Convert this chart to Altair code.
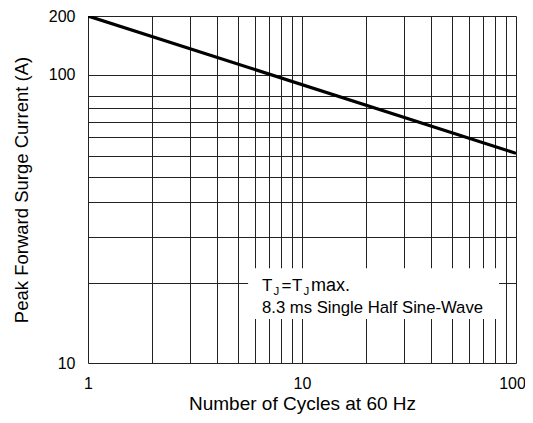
import altair as alt
import pandas as pd

# x axis (log): cycles
x_grid = [1, 2, 3, 4, 5, 6, 7, 8, 9, 10, 20, 30, 40, 50, 60, 70, 80, 90, 100]
x_labeled = [1, 10, 100]

# y axis (log) as drawn in the picture; label text for each grid line
y_grid = [10, 18.9, 27.4, 36.1, 44.2, 52.3, 60.9, 68.6, 76.7, 84.4, 100, 160]
y_labels = ["10", "", "", "", "", "", "", "", "", "", "100", "200"]

# surge-current curve (straight on log-log)
cycles = [1, 100]
current = [160, 53.4]

# annotation box and text (data coordinates)
box_x = [5.6, 83.3]
box_y = [14.2, 21.3]
note_x = 6.5
note_line1_y = 17.8
note_line2_y = 14.9
note_line2 = "8.3 ms Single Half Sine-Wave"

FONT = "Liberation Sans"

line_df = pd.DataFrame({"cycles": cycles, "current": current})
box_df = pd.DataFrame({"x": [box_x[0]], "x2": [box_x[1]], "y": [box_y[0]], "y2": [box_y[1]]})

y_label_expr = " : ".join(
    f"datum.value == {v} ? '{t}'" for v, t in zip(y_grid, y_labels) if t
) + " : ''"
x_label_expr = " || ".join(f"datum.value == {v}" for v in x_labeled) + " ? datum.label : ''"

x_scale = alt.Scale(type="log", domain=[1, 100], nice=False)
y_scale = alt.Scale(type="log", domain=[10, 160], nice=False)

x_axis = alt.Axis(
    values=x_grid, labelExpr=x_label_expr, format="d", grid=True, ticks=False, tickSize=0,
    domain=False, labelPadding=12, labelFontSize=16, labelColor="#000", labelFont=FONT,
    labelOffset={"condition": {"test": "datum.value == 100", "value": -4}, "value": 0},
    title="Number of Cycles at 60 Hz", titleFontSize=19, titleFont=FONT,
    titleFontWeight="normal", titleColor="#000", titlePadding=3, labelFlush=False,
    gridColor="#222", gridWidth=1, gridOpacity=1,
)
y_axis = alt.Axis(
    values=y_grid, labelExpr=y_label_expr, grid=True, ticks=False, tickSize=0,
    domain=False, labelPadding=13, labelFontSize=16, labelColor="#000", labelFont=FONT,
    title="Peak Forward Surge Current (A)", titleFontSize=18.5, titleFont=FONT,
    titleFontWeight="normal", titleColor="#000", titlePadding=17, labelFlush=False,
    gridColor="#222", gridWidth=1, gridOpacity=1,
)

base_line = alt.Chart(line_df).mark_line(color="#000", strokeWidth=3.2, clip=True).encode(
    x=alt.X("cycles:Q", scale=x_scale, axis=x_axis),
    y=alt.Y("current:Q", scale=y_scale, axis=y_axis),
)

box = alt.Chart(box_df).mark_rect(color="white", opacity=1).encode(
    x=alt.X("x:Q", scale=x_scale),
    x2="x2:Q",
    y=alt.Y("y:Q", scale=y_scale),
    y2="y2:Q",
)

pieces = pd.DataFrame({
    "txt": ["T", "J", "=", "T", "J", "max."],
    "dx": [0, 11.5, 19.5, 30, 41.5, 49],
    "dy": [0, 4, 0, 0, 4, 0],
    "size": [17, 11.5, 17, 17, 11.5, 18],
})

line1_layers = []
for _, r in pieces.iterrows():
    d = pd.DataFrame({"x": [note_x], "y": [note_line1_y], "t": [r["txt"]]})
    line1_layers.append(
        alt.Chart(d).mark_text(
            align="left", baseline="alphabetic", font=FONT, fontSize=float(r["size"]),
            dx=float(r["dx"]), dy=float(r["dy"]), color="#000",
        ).encode(
            x=alt.X("x:Q", scale=x_scale), y=alt.Y("y:Q", scale=y_scale), text="t:N"
        )
    )

line2_df = pd.DataFrame({"x": [note_x], "y": [note_line2_y], "t": [note_line2]})
line2 = alt.Chart(line2_df).mark_text(
    align="left", baseline="alphabetic", font=FONT, fontSize=16.7, color="#000"
).encode(x=alt.X("x:Q", scale=x_scale), y=alt.Y("y:Q", scale=y_scale), text="t:N")

chart = alt.layer(base_line, box, *line1_layers, line2).properties(
    width=428, height=347,
    autosize=alt.AutoSizeParams(type="none"),
    padding={"left": 80, "top": 8, "right": 9, "bottom": 52},
).configure_view(stroke="#000", strokeWidth=2.2).configure(background="white")

chart.save("out.html", embed_options={"renderer": "svg", "actions": False})
